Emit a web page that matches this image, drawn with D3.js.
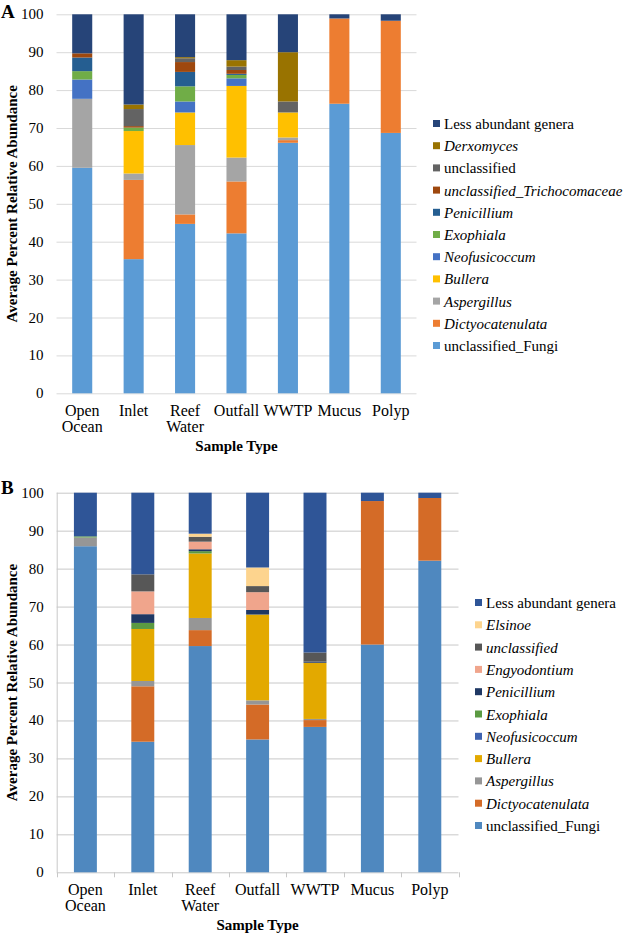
<!DOCTYPE html>
<html>
<head>
<meta charset="utf-8">
<script src="https://cdn.jsdelivr.net/npm/d3@7/dist/d3.min.js"></script>
<style>
  body { margin: 0; background: #fff; }
  text { font-family: "Liberation Serif", "DejaVu Serif", serif; }
</style>
</head>
<body>
<svg id="chart" width="625" height="937"></svg>
<script>
// categories shared by both panels
var categories = ['Open Ocean', 'Inlet', 'Reef Water', 'Outfall', 'WWTP', 'Mucus', 'Polyp'];
var yTicks = [0, 10, 20, 30, 40, 50, 60, 70, 80, 90, 100];

// panel A series, bottom to top of the stack
var seriesA = ['unclassified_Fungi', 'Dictyocatenulata', 'Aspergillus', 'Bullera', 'Neofusicoccum',
  'Exophiala', 'Penicillium', 'unclassified_Trichocomaceae', 'unclassified', 'Derxomyces', 'Less abundant genera'];
var fungiA   = [59.5, 35.4, 44.7, 42.2, 66.1, 76.4, 68.7];
var dictyoA  = [0, 20.9, 2.5, 13.7, 0.7, 22.5, 29.6];
var asperA   = [18.2, 1.7, 18.3, 6.3, 0.7, 0, 0];
var bulleraA = [0, 11.2, 8.6, 18.9, 6.6, 0, 0];
var neofuA   = [5.1, 0, 2.9, 2.0, 0, 0, 0];
var exophA   = [2.2, 0.9, 4.0, 0.9, 0, 0, 0];
var peniA    = [3.6, 0, 3.8, 0.3, 0, 0, 0];
var trichoA  = [1.1, 0.4, 2.6, 1.0, 0, 0, 0];
var unclA    = [0, 4.5, 1.0, 0.9, 2.9, 0, 0];
var derxA    = [0, 1.2, 0.3, 1.7, 13.0, 0, 0];
var lessA    = [10.3, 23.8, 11.3, 12.1, 10.0, 1.1, 1.7];

// panel B series, bottom to top of the stack
var seriesB = ['unclassified_Fungi', 'Dictyocatenulata', 'Aspergillus', 'Bullera', 'Neofusicoccum',
  'Exophiala', 'Penicillium', 'Engyodontium', 'unclassified', 'Elsinoe', 'Less abundant genera'];
var fungiB   = [85.9, 34.4, 59.6, 35.0, 38.3, 60.0, 82.1];
var dictyoB  = [0, 14.6, 4.2, 9.2, 1.8, 37.8, 16.5];
var asperB   = [2.3, 1.4, 3.2, 1.1, 0.3, 0, 0];
var bulleraB = [0, 13.7, 17.0, 22.6, 14.8, 0, 0];
var neofuB   = [0, 0, 0, 0, 0, 0, 0];
var exophB   = [0.3, 1.6, 0.6, 0, 0, 0, 0];
var peniB    = [0, 2.3, 0.5, 1.2, 0.3, 0, 0];
var engyoB   = [0, 6.0, 2.0, 4.7, 0, 0, 0];
var unclB    = [0, 4.5, 1.3, 1.6, 2.4, 0, 0];
var elsinoeB = [0, 0, 0.8, 4.9, 0, 0, 0];
var lessB    = [11.5, 21.5, 10.8, 19.7, 42.1, 2.2, 1.4];

// colours
var colorsA = ['#5b9bd5', '#ed7d31', '#a5a5a5', '#ffc000', '#4472c4', '#70ad47',
  '#255e91', '#9e480e', '#636363', '#997300', '#264478'];
var colorsB = ['#4f88bf', '#d46b27', '#969696', '#e3a900', '#3f63b0', '#5b9a42',
  '#1f3864', '#f0a58c', '#575757', '#fdd48e', '#2f5597'];

// italic legend entries
var italicA = [false, true, true, true, true, true, true, true, false, true, false];
var italicB = [false, true, true, true, true, true, true, true, true, true, false];

var FONT = '"Liberation Serif", "DejaVu Serif", serif';
var svg = d3.select('#chart').attr('font-family', FONT);

//build a table for d3.stack
function makeTable(cols, keys) {
  return categories.map(function(c, i) {
    var row = { cat: c };
    keys.forEach(function(k, j) { row[k] = cols[j][i]; });
    return row;
  });
}

function drawPanel(p) {
  var x = d3.scaleBand().domain(categories).range([p.left, p.right]).paddingInner(p.pad).paddingOuter(p.pad / 2);
  var y = d3.scaleLinear().domain([0, 100]).range([p.bottom, p.top]);
  var g = svg.append('g').attr('font-family', FONT);

  //gridlines
  g.selectAll('.grid')
    .data(yTicks)
    .enter().append('line')
    .attr('x1', p.left).attr('x2', p.right)
    .attr('y1', function(d) { return y(d) + 0.5; })
    .attr('y2', function(d) { return y(d) + 0.5; })
    .style('stroke', p.gridColor).style('stroke-width', 1);

  //y tick labels
  g.selectAll('.ytick')
    .data(yTicks)
    .enter().append('text')
    .attr('x', p.left - 13)
    .attr('y', function(d) { return y(d) + 5; })
    .attr('text-anchor', 'end')
    .style('font-size', '15px')
    .text(function(d) { return d; });

  if (p.axes) {
    g.append('line').attr('x1', p.left + 0.5).attr('x2', p.left + 0.5)
      .attr('y1', p.top).attr('y2', p.bottom)
      .style('stroke', p.gridColor);
    var edges = categories.map(function(c) { return x(c) - x.step() * p.pad / 2; });
    edges.push(p.right);
    g.selectAll('.xtick')
      .data(edges)
      .enter().append('line')
      .attr('x1', function(d) { return Math.round(d) + 0.5; })
      .attr('x2', function(d) { return Math.round(d) + 0.5; })
      .attr('y1', p.bottom).attr('y2', p.bottom + 5)
      .style('stroke', p.gridColor);
  }

  //stacked bars
  var stack = d3.stack().keys(p.keys)(p.table);
  g.selectAll('.layer')
    .data(stack)
    .enter().append('g')
    .style('fill', function(d, i) { return p.colors[i]; })
    .selectAll('rect')
    .data(function(d) { return d; })
    .enter().append('rect')
    .attr('x', function(d) { return x(d.data.cat); })
    .attr('width', x.bandwidth())
    .attr('y', function(d) { return y(d[1]); })
    .attr('height', function(d) { return y(d[0]) - y(d[1]); });

  //category labels
  var lab = g.selectAll('.xlab')
    .data(categories)
    .enter().append('text')
    .attr('text-anchor', 'middle')
    .style('font-size', '16px')
    .attr('y', p.bottom + 23);
  lab.each(function(d) {
    var words = d.split(' ');
    var t = d3.select(this);
    words.forEach(function(w, i) {
      t.append('tspan')
        .attr('x', x(d) + x.bandwidth() / 2)
        .attr('dy', i === 0 ? 0 : 16)
        .text(w);
    });
  });

  //axis titles
  g.append('text')
    .attr('x', (p.left + p.right) / 2)
    .attr('y', p.bottom + 58)
    .attr('text-anchor', 'middle')
    .style('font-size', '15px').style('font-weight', 'bold')
    .text('Sample Type');
  g.append('text')
    .attr('transform', 'translate(17,' + (p.top + p.bottom) / 2 + ') rotate(-90)')
    .attr('text-anchor', 'middle')
    .style('font-size', '15px').style('font-weight', 'bold')
    .text('Average Percent Relative Abundance');

  //panel letter
  g.append('text')
    .attr('x', 1).attr('y', p.letterY)
    .style('font-size', '19px').style('font-weight', 'bold')
    .text(p.letter);

  //legend, top entry is the last series
  var items = p.keys.slice().reverse();
  var leg = g.selectAll('.leg')
    .data(items)
    .enter().append('g')
    .attr('transform', function(d, i) { return 'translate(' + p.legX + ',' + (p.legY + i * p.legStep) + ')'; });
  leg.append('rect')
    .attr('x', 0).attr('y', -4).attr('width', 7).attr('height', 7)
    .style('fill', function(d) { return p.colors[p.keys.indexOf(d)]; });
  leg.append('text')
    .attr('x', 11).attr('y', 5)
    .style('font-size', '15px')
    .style('font-style', function(d) { return p.italic[p.keys.indexOf(d)] ? 'italic' : 'normal'; })
    .text(function(d) { return d; });
}

drawPanel({
  letter: 'A', letterY: 18,
  keys: seriesA, colors: colorsA, italic: italicA,
  table: makeTable([fungiA, dictyoA, asperA, bulleraA, neofuA, exophA, peniA, trichoA, unclA, derxA, lessA], seriesA),
  left: 56.5, right: 416.5, top: 14.3, bottom: 393.3, pad: 0.61,
  gridColor: '#d9d9d9', axes: false,
  legX: 433, legY: 124, legStep: 22.2
});

drawPanel({
  letter: 'B', letterY: 494,
  keys: seriesB, colors: colorsB, italic: italicB,
  table: makeTable([fungiB, dictyoB, asperB, bulleraB, neofuB, exophB, peniB, engyoB, unclB, elsinoeB, lessB], seriesB),
  left: 56.7, right: 458.5, top: 492.7, bottom: 872.3, pad: 0.6,
  gridColor: '#c8c8c8', axes: true,
  legX: 475, legY: 603, legStep: 22.3
});
</script>
</body>
</html>
